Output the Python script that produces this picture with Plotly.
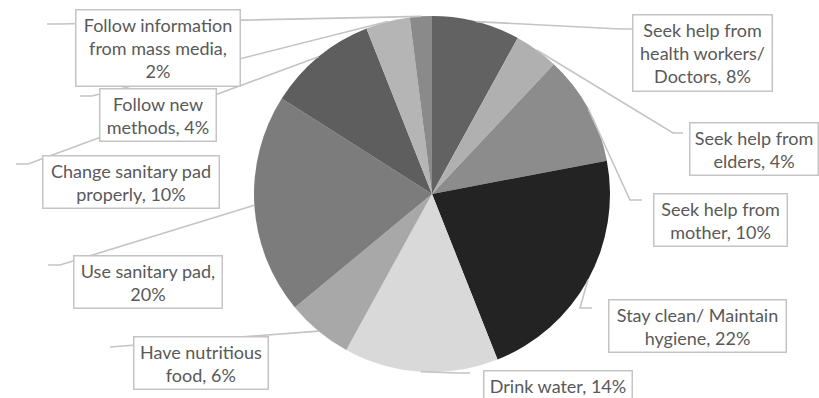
import math
import plotly.graph_objects as go

# ---- data ----
labels = [
    "Seek help from<br>health workers/<br>Doctors",
    "Seek help from<br>elders",
    "Seek help from<br>mother",
    "Stay clean/ Maintain<br>hygiene",
    "Drink water",
    "Have nutritious<br>food",
    "Use sanitary pad,<br>",
    "Change sanitary pad<br>properly",
    "Follow new<br>methods",
    "Follow information<br>from mass media,<br>",
]
values = [8, 4, 10, 22, 14, 6, 20, 10, 4, 2]
colors = ["#626262", "#b0b0b0", "#8c8c8c", "#232323", "#d9d9d9",
          "#a8a8a8", "#7c7c7c", "#5e5e5e", "#b5b5b5", "#8a8a8a"]

# ---- layout constants (pixels) ----
W, H = 819, 398
CX, CY, R = 432, 194, 178
# label box centres, widths
box_cx = [702, 754, 720, 697, 558, 201, 148, 131, 158, 158]
box_cy = [53, 149, 220, 326, 385, 363, 282, 182, 115, 48]
box_w = [141, 130, 135, 179, 150, 136, 150, 178, 118, 166]
# leader line: end of slanted part and horizontal elbow length
lead_end = [(620, 29), (673, 133), (630, 200), (580, 308), (458, 373),
            (110, 347), (60, 265), (28, 164), (92, 96), (60, 24)]
lead_dx = [12, 10, 12, 12, 12, 0, -12, -12, -12, -13]


def px(x):
    return x / W


def py(y):
    return 1 - y / H


fig = go.Figure(go.Pie(
    labels=[l.replace("<br>", " ") for l in labels],
    values=values,
    sort=False,
    direction="clockwise",
    rotation=0,
    marker=dict(colors=colors, line=dict(width=0)),
    textinfo="none",
    hoverinfo="label+percent",
    domain=dict(x=[px(CX - R), px(CX + R)], y=[py(CY + R), py(CY - R)]),
))

total = sum(values)
cum = 0
shapes = []
annotations = []
for i, v in enumerate(values):
    mid = (cum + v / 2) / total * 2 * math.pi
    cum += v
    ax = CX + R * math.sin(mid)
    ay = CY - R * math.cos(mid)
    ex, ey = lead_end[i]
    path = f"M {px(ax)} {py(ay)} L {px(ex)} {py(ey)}"
    if lead_dx[i]:
        path += f" L {px(ex + lead_dx[i])} {py(ey)}"
    shapes.append(dict(type="path", xref="paper", yref="paper", path=path,
                       line=dict(color="#c4c4c4", width=1.6), layer="above"))
    txt = labels[i]
    pct = f"{v}%"
    if txt.endswith("<br>"):
        text = txt + pct
    else:
        text = txt + ", " + pct
    annotations.append(dict(
        x=px(box_cx[i]), y=py(box_cy[i]), xref="paper", yref="paper",
        xanchor="center", yanchor="middle", showarrow=False,
        text=text, align="center",
        font=dict(family="Lato, Open Sans, sans-serif", size=18, color="#595959"),
        bgcolor="white", bordercolor="#c4c4c4", borderwidth=1.5, borderpad=3,
        width=box_w[i] - 9,
    ))

fig.update_layout(
    width=W, height=H,
    margin=dict(l=0, r=0, t=0, b=0),
    paper_bgcolor="white", plot_bgcolor="white",
    showlegend=False,
    shapes=shapes,
    annotations=annotations,
)

fig.write_html("out.html")
